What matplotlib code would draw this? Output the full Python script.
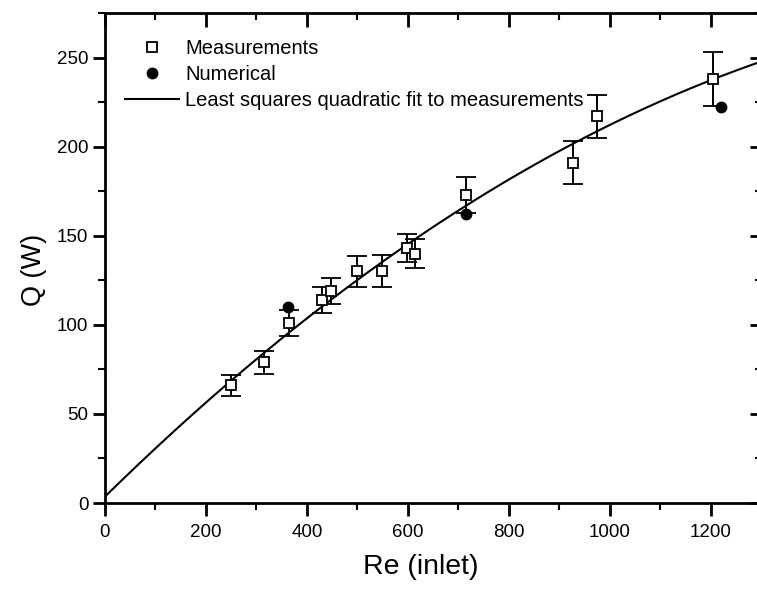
import numpy as np
import matplotlib
matplotlib.use("Agg")
import matplotlib.pyplot as plt
from matplotlib.ticker import MultipleLocator
from matplotlib.lines import Line2D

plt.rcParams['font.family'] = ['Liberation Sans', 'DejaVu Sans']

re_meas = [250, 315, 365, 430, 448, 500, 549, 598, 614, 715, 927, 975, 1205]
q_meas = [66, 79, 101, 114, 119, 130, 130, 143, 140, 173, 191, 217, 238]
q_err = [6, 6.5, 7.5, 7.5, 7.5, 8.5, 9, 8, 8, 10, 12, 12, 15]

# numerical results
re_num = [362, 715, 1220]
q_num = [110, 162, 222]

# least squares quadratic fit to the measurements
coef = np.polyfit(re_meas, q_meas, 2)
re_fit = np.linspace(0, 1300, 300)
q_fit = np.polyval(coef, re_fit)

fig = plt.figure(figsize=(7.57, 5.89), dpi=100)
W, H = 757.0, 589.0
ax = fig.add_axes([105 / W, 1 - 503 / H, 656 / W, 490 / H])

ax.errorbar(re_meas, q_meas, yerr=q_err, fmt='s', ms=7, mfc='white', mec='black',
            mew=1.3, ecolor='black', elinewidth=1.4, capsize=7, capthick=1.4,
            color='black', zorder=3)
ax.plot(re_num, q_num, 'o', ms=7.5, color='black', zorder=4)
ax.plot(re_fit, q_fit, '-', color='black', lw=1.5, zorder=2)

ax.set_xlim(0, 1300)
ax.set_ylim(0, 275)
ax.xaxis.set_major_locator(MultipleLocator(200))
ax.xaxis.set_minor_locator(MultipleLocator(100))
ax.yaxis.set_major_locator(MultipleLocator(50))
ax.yaxis.set_minor_locator(MultipleLocator(25))

for s in ax.spines.values():
    s.set_linewidth(2)
ax.tick_params(which='major', direction='out', length=9, width=2, labelsize=13.5, pad=3)
ax.tick_params(which='minor', direction='out', length=5, width=1.5)
ax.tick_params(axis='x', which='major', pad=6)

# mirrored ticks on top and right, pointing inward
top = ax.secondary_xaxis('top')
top.xaxis.set_major_locator(MultipleLocator(200))
top.xaxis.set_minor_locator(MultipleLocator(100))
top.tick_params(which='major', direction='in', length=10, width=2, labeltop=False)
top.tick_params(which='minor', direction='in', length=5, width=1.5)
right = ax.secondary_yaxis('right')
right.yaxis.set_major_locator(MultipleLocator(50))
right.yaxis.set_minor_locator(MultipleLocator(25))
right.tick_params(which='major', direction='in', length=8, width=2, labelright=False)
right.tick_params(which='minor', direction='in', length=4, width=1.5)

ax.set_xlabel('Re (inlet)', fontsize=20.5)
ax.set_ylabel('Q (W)', fontsize=19.5)
ax.xaxis.set_label_coords(0.482, -0.105)
ax.yaxis.set_label_coords(-0.088, 0.475)

handles = [
    Line2D([], [], ls='none', marker='s', ms=7, mfc='white', mec='black', mew=1.3),
    Line2D([], [], ls='none', marker='o', ms=7.5, color='black'),
    Line2D([], [], ls='-', lw=1.5, color='black'),
]
labels = ['Measurements', 'Numerical', 'Least squares quadratic fit to measurements']
ax.legend(handles, labels, loc='upper left', frameon=False, fontsize=14.5,
          handlelength=2.7, handletextpad=0.3, labelspacing=0.35,
          borderaxespad=0.0, bbox_to_anchor=(0.0175, 0.963))

fig.savefig('out.png', dpi=100)
